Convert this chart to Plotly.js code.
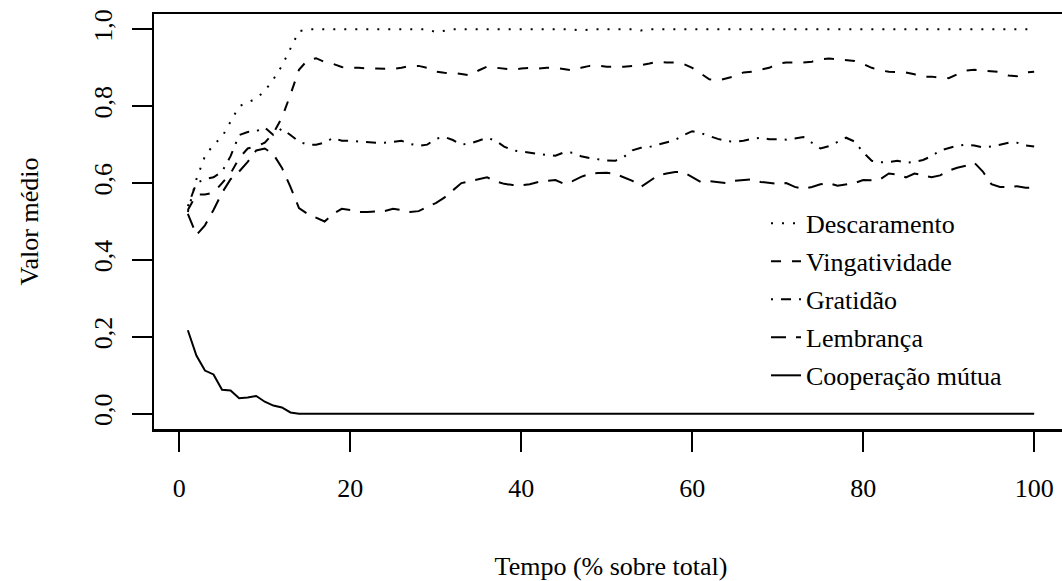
<!DOCTYPE html>
<html>
<head>
<meta charset="utf-8">
<script src="https://cdn.plot.ly/plotly-3.0.1.min.js"></script>
<style>
html,body{margin:0;padding:0;overflow:hidden;background:#fff;}
#chart{width:1070px;height:581px;}
</style>
</head>
<body>
<div id="chart"></div>
<script>
const tempo = [1,2,3,4,5,6,7,8,9,10,11,12,13,14,15,16,17,18,19,20,21,22,23,24,25,26,27,28,29,30,31,32,33,34,35,36,37,38,39,40,41,42,43,44,45,46,47,48,49,50,51,52,53,54,55,56,57,58,59,60,61,62,63,64,65,66,67,68,69,70,71,72,73,74,75,76,77,78,79,80,81,82,83,84,85,86,87,88,89,90,91,92,93,94,95,96,97,98,99,100];

const descaramento = [0.525,0.61,0.67,0.70,0.72,0.76,0.80,0.81,0.82,0.84,
0.87,0.905,0.95,0.995,1.0,1.0,1.0,1.0,1.0,1.0,
1.0,1.0,1.0,1.0,1.0,1.0,1.0,1.0,1.0,0.993,
0.997,1.0,1.0,1.0,1.0,1.0,1.0,1.0,1.0,1.0,
1.0,1.0,1.0,1.0,1.0,1.0,0.997,1.0,1.0,1.0,
1.0,1.0,1.0,0.997,1.0,1.0,1.0,1.0,1.0,1.0,
1.0,1.0,1.0,1.0,1.0,1.0,1.0,1.0,1.0,1.0,
1.0,1.0,1.0,1.0,1.0,1.0,1.0,1.0,1.0,1.0,
1.0,1.0,1.0,1.0,1.0,1.0,1.0,1.0,1.0,1.0,
1.0,1.0,1.0,1.0,1.0,1.0,1.0,1.0,1.0,1.0];

const vingatividade = [0.53,0.57,0.57,0.575,0.60,0.625,0.665,0.69,0.695,0.705,
0.73,0.77,0.83,0.895,0.92,0.925,0.915,0.91,0.902,0.90,
0.90,0.898,0.898,0.897,0.897,0.90,0.905,0.905,0.90,0.89,
0.887,0.886,0.884,0.88,0.893,0.903,0.90,0.897,0.895,0.898,
0.90,0.898,0.90,0.90,0.897,0.893,0.90,0.905,0.906,0.903,
0.903,0.903,0.905,0.907,0.911,0.916,0.914,0.914,0.91,0.90,
0.885,0.87,0.867,0.872,0.878,0.888,0.89,0.895,0.90,0.91,
0.914,0.914,0.914,0.916,0.922,0.924,0.922,0.92,0.918,0.91,
0.90,0.893,0.89,0.889,0.888,0.883,0.876,0.877,0.874,0.873,
0.882,0.893,0.895,0.893,0.89,0.889,0.88,0.878,0.888,0.89];

const gratidao = [0.54,0.60,0.61,0.615,0.63,0.67,0.725,0.733,0.735,0.745,
0.725,0.742,0.725,0.708,0.70,0.70,0.705,0.718,0.71,0.71,
0.708,0.706,0.705,0.705,0.707,0.71,0.702,0.697,0.70,0.715,
0.72,0.712,0.70,0.703,0.71,0.718,0.71,0.695,0.685,0.682,
0.678,0.675,0.673,0.671,0.68,0.679,0.67,0.665,0.661,0.659,
0.658,0.668,0.685,0.692,0.694,0.70,0.705,0.712,0.725,0.735,
0.73,0.722,0.715,0.709,0.708,0.71,0.715,0.718,0.714,0.714,
0.713,0.716,0.72,0.705,0.69,0.696,0.708,0.718,0.708,0.68,
0.658,0.654,0.655,0.658,0.653,0.655,0.66,0.67,0.685,0.69,
0.697,0.70,0.698,0.693,0.695,0.70,0.705,0.705,0.698,0.695];

const lembranca = [0.52,0.465,0.49,0.53,0.575,0.61,0.63,0.655,0.685,0.69,
0.675,0.64,0.59,0.535,0.52,0.51,0.50,0.52,0.533,0.53,
0.525,0.525,0.526,0.527,0.533,0.53,0.525,0.527,0.538,0.548,
0.562,0.582,0.60,0.605,0.61,0.615,0.605,0.598,0.595,0.594,
0.597,0.603,0.606,0.608,0.598,0.605,0.616,0.624,0.626,0.627,
0.624,0.615,0.606,0.59,0.605,0.62,0.625,0.629,0.628,0.615,
0.603,0.605,0.603,0.60,0.606,0.608,0.61,0.603,0.60,0.598,
0.60,0.59,0.585,0.59,0.597,0.60,0.593,0.597,0.60,0.608,
0.607,0.61,0.625,0.622,0.615,0.625,0.62,0.615,0.62,0.632,
0.64,0.645,0.653,0.63,0.597,0.59,0.59,0.592,0.588,0.588];

const cooperacao = [0.217,0.151,0.112,0.102,0.062,0.06,0.04,0.042,0.046,0.031,
0.021,0.016,0.003,0,0,0,0,0,0,0,
0,0,0,0,0,0,0,0,0,0,
0,0,0,0,0,0,0,0,0,0,
0,0,0,0,0,0,0,0,0,0,
0,0,0,0,0,0,0,0,0,0,
0,0,0,0,0,0,0,0,0,0,
0,0,0,0,0,0,0,0,0,0,
0,0,0,0,0,0,0,0,0,0,
0,0,0,0,0,0,0,0,0,0];

const seriesNames = ["Descaramento","Vingatividade","Gratidão","Lembrança","Cooperação mútua"];
const xTickVals = [0,20,40,60,80,100];
const yTickVals = [0,0.2,0.4,0.6,0.8,1.0];
const yTickText = ["0,0","0,2","0,4","0,6","0,8","1,0"];
const xTitle = "Tempo (% sobre total)";
const yTitle = "Valor médio";

const seriesValues = [descaramento, vingatividade, gratidao, lembranca, cooperacao];
const dashes = ["2px,9px","10px,11px","2px,8px,10px,8px","15px,10px","solid"];

const FAMILY = "Liberation Serif";
function mkFont() { return {family: FAMILY, size: 26, color: "#000"}; }

const traces = seriesValues.map((vals, i) => ({
  x: tempo,
  y: vals,
  type: "scatter",
  mode: "lines",
  name: seriesNames[i],
  legendgroup: "g" + i,
  line: {color: "#000", width: 2, dash: dashes[i]},
  hoverinfo: "skip"
}));

const axisCommon = {
  showgrid: false,
  zeroline: false,
  showline: true,
  mirror: true,
  linecolor: "#000",
  linewidth: 2.5,
  ticks: "outside",
  ticklen: 20,
  tickwidth: 2,
  tickcolor: "#000",
  automargin: false
};

const layout = {
  width: 1070,
  height: 581,
  margin: {l: 154, r: 2, t: 14, b: 152},
  paper_bgcolor: "#fff",
  plot_bgcolor: "#fff",
  font: mkFont(),
  showlegend: true,
  legend: {
    x: 0.6696, y: 0.552, xanchor: "left", yanchor: "top",
    font: mkFont(),
    bgcolor: "rgba(0,0,0,0)",
    borderwidth: 0,
    traceorder: "grouped",
    tracegroupgap: 1.2
  },
  xaxis: Object.assign({}, axisCommon, {
    range: [-2.96, 103.96],
    tickmode: "array",
    tickvals: xTickVals,
    tickfont: mkFont(),
    ticklabelstandoff: 14,
    title: {text: xTitle, font: mkFont(), standoff: 56}
  }),
  yaxis: Object.assign({}, axisCommon, {
    range: [-0.04, 1.04],
    tickmode: "array",
    tickvals: yTickVals,
    ticktext: yTickText,
    tickangle: -90,
    tickfont: mkFont(),
    ticklabelstandoff: 9,
    title: {text: yTitle, font: mkFont(), standoff: 43}
  })
};

Plotly.newPlot("chart", traces, layout, {staticPlot: true, displayModeBar: false});
</script>
</body>
</html>
